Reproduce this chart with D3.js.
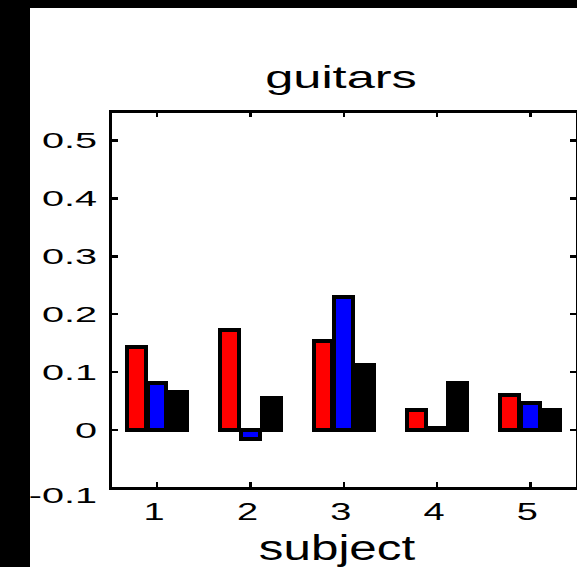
<!DOCTYPE html>
<html>
<head>
<meta charset="utf-8">
<script src="https://cdn.jsdelivr.net/npm/d3@7"></script>
<style>
    html, body { margin: 0; padding: 0; background: #000; }
    svg { display: block; }
    text { font-family: 'Liberation Sans', Arial, sans-serif; fill: #000; }
    rect, line { shape-rendering: crispEdges; }
</style>
</head>
<body>
<div id="chart"></div>
<script>
// values
let subjects = [1, 2, 3, 4, 5];
let seriesRed = [0.143, 0.172, 0.154, 0.034, 0.060];
let seriesBlue = [0.081, -0.016, 0.229, 0.004, 0.046];
let seriesBlack = [0.065, 0.055, 0.112, 0.082, 0.035];
let seriesColors = ['#ff0000', '#0000ff', '#000000'];
let yTicks = [-0.1, 0, 0.1, 0.2, 0.3, 0.4, 0.5];
let yTickLabels = ['-0.1', '0', '0.1', '0.2', '0.3', '0.4', '0.5'];
let titleText = 'guitars';
let xLabelText = 'subject';

let width = 577,
    height = 567,
    plot = {left: 110.5, right: 577, top: 111.5, bottom: 488};

let svg = d3.select('#chart').append('svg')
    .attr('width', width)
    .attr('height', height);

// black strip on the left and top, white figure area
svg.append('rect')
    .attr('x', 0).attr('y', 0)
    .attr('width', width).attr('height', height)
    .attr('fill', '#000');
svg.append('rect')
    .attr('x', 30).attr('y', 8)
    .attr('width', width - 30).attr('height', height - 8)
    .attr('fill', '#fff');

let xScale = d3.scaleLinear()
    .domain([0.5, 5.5])
    .range([plot.left, plot.right]);

let yScale = d3.scaleLinear()
    .domain([-0.1, 0.55])
    .range([plot.bottom, plot.top]);

let series = [seriesRed, seriesBlue, seriesBlack];
let groupWidth = 0.6667,
    barStep = groupWidth / 3,
    barWidth = 0.2;

let bar_g = svg.append('g').attr('class', 'bars');

series.forEach(function (values, si) {
    bar_g.selectAll('.bar-' + si)
        .data(values)
        .enter().append('rect')
        .attr('class', 'bar-' + si)
        .attr('x', (d, i) => xScale(subjects[i] + (si - 1) * barStep - barWidth / 2))
        .attr('width', xScale(barWidth) - xScale(0))
        .attr('y', d => yScale(Math.max(0, d)))
        .attr('height', d => Math.abs(yScale(d) - yScale(0)))
        .attr('fill', seriesColors[si])
        .attr('stroke', '#000')
        .attr('stroke-width', 4);
});

// frame
let axis_g = svg.append('g').attr('class', 'axes');

axis_g.append('rect')
    .attr('x', plot.left).attr('y', plot.top)
    .attr('width', plot.right - plot.left)
    .attr('height', plot.bottom - plot.top)
    .attr('fill', 'none')
    .attr('stroke', '#000')
    .attr('stroke-width', 3);

// ticks, pointing inward on all four sides
axis_g.selectAll('.ytick-l')
    .data(yTicks)
    .enter().append('line')
    .attr('x1', plot.left).attr('x2', plot.left + 7)
    .attr('y1', d => yScale(d)).attr('y2', d => yScale(d))
    .attr('stroke', '#000').attr('stroke-width', 2.5);

axis_g.selectAll('.ytick-r')
    .data(yTicks)
    .enter().append('line')
    .attr('x1', plot.right - 7).attr('x2', plot.right)
    .attr('y1', d => yScale(d)).attr('y2', d => yScale(d))
    .attr('stroke', '#000').attr('stroke-width', 2.5);

axis_g.selectAll('.xtick-b')
    .data(subjects)
    .enter().append('line')
    .attr('x1', d => xScale(d)).attr('x2', d => xScale(d))
    .attr('y1', plot.bottom).attr('y2', plot.bottom - 6)
    .attr('stroke', '#000').attr('stroke-width', 2.5);

axis_g.selectAll('.xtick-t')
    .data(subjects)
    .enter().append('line')
    .attr('x1', d => xScale(d)).attr('x2', d => xScale(d))
    .attr('y1', plot.top).attr('y2', plot.top + 5)
    .attr('stroke', '#000').attr('stroke-width', 2.5);

// wide, stretched lettering like the original screen font
function stretchedText(x, y, str, size, sx, anchor) {
    return svg.append('text')
        .attr('transform', `translate(${x}, ${y}) scale(${sx}, 1)`)
        .attr('text-anchor', anchor)
        .attr('font-size', size)
        .text(str);
}

yTicks.forEach(function (d, i) {
    // the lowest label sits a little below its tick in the original
    let shift = d === yTicks[0] ? 7 : 0;
    stretchedText(97, yScale(d) + 8 + shift, yTickLabels[i], 22, 1.8, 'end');
});

subjects.forEach(function (d) {
    stretchedText(xScale(d) - 3, 520, String(d), 23, 1.65, 'middle');
});

stretchedText(341, 88, titleText, 32, 1.58, 'middle');
stretchedText(337, 560, xLabelText, 35, 1.41, 'middle');
</script>
</body>
</html>
